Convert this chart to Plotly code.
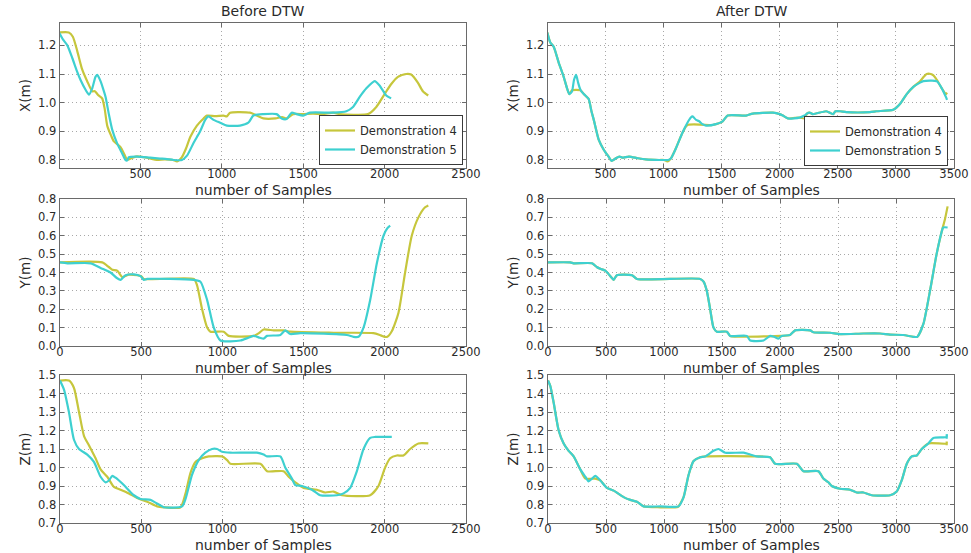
import plotly.graph_objects as go

# ---------------- data ----------------
# Before DTW, X(m)
bx4_s = [0, 60, 85, 112, 140, 173, 204, 220, 240, 265, 280, 296, 320, 337, 378, 405, 418, 440, 470, 520, 560, 600, 650, 700, 725, 755, 780, 806, 847, 888, 908, 960, 1010, 1030, 1051, 1173, 1214, 1255, 1330, 1370, 1398, 1439, 1500, 1560, 1620, 1684, 1724, 1898, 1949, 2000, 2041, 2082, 2133, 2163, 2204, 2235, 2268]
bx4_v = [1.245, 1.245, 1.23, 1.18, 1.12, 1.075, 1.04, 1.04, 1.027, 1.015, 0.98, 0.92, 0.885, 0.865, 0.845, 0.815, 0.80, 0.805, 0.812, 0.81, 0.805, 0.80, 0.802, 0.80, 0.795, 0.81, 0.84, 0.88, 0.92, 0.945, 0.955, 0.953, 0.955, 0.952, 0.965, 0.965, 0.955, 0.945, 0.945, 0.95, 0.945, 0.96, 0.96, 0.962, 0.96, 0.965, 0.96, 0.96, 0.985, 1.03, 1.065, 1.09, 1.10, 1.098, 1.07, 1.04, 1.025]
bx5_s = [0, 25, 51, 82, 110, 133, 163, 184, 204, 224, 235, 255, 270, 286, 306, 327, 357, 388, 408, 418, 429, 480, 560, 620, 663, 704, 755, 786, 827, 867, 898, 918, 949, 990, 1031, 1112, 1163, 1194, 1255, 1337, 1367, 1398, 1429, 1459, 1500, 1541, 1684, 1765, 1806, 1847, 1888, 1939, 1969, 2010, 2040]
bx5_v = [1.245, 1.22, 1.20, 1.155, 1.11, 1.078, 1.045, 1.028, 1.05, 1.09, 1.097, 1.075, 1.05, 1.02, 0.96, 0.905, 0.858, 0.823, 0.80, 0.798, 0.81, 0.812, 0.808, 0.805, 0.803, 0.80, 0.80, 0.815, 0.86, 0.90, 0.94, 0.952, 0.94, 0.93, 0.92, 0.92, 0.93, 0.955, 0.96, 0.96, 0.945, 0.943, 0.965, 0.96, 0.955, 0.965, 0.965, 0.97, 0.985, 1.02, 1.05, 1.075, 1.06, 1.025, 1.015]

# After DTW, X(m)
ax4_s = [0, 26, 55, 98, 141, 170, 190, 213, 285, 314, 340, 357, 380, 400, 443, 487, 530, 553, 587, 620, 645, 703, 780, 847, 962, 1005, 1034, 1063, 1106, 1163, 1206, 1422, 1451, 1509, 1552, 1710, 1768, 1941, 2000, 2027, 2070, 2171, 2214, 2235, 2257, 2286, 2401, 2459, 2480, 2520, 2574, 2776, 2833, 2977, 3035, 3093, 3150, 3208, 3240, 3265, 3300, 3323, 3352, 3395, 3430, 3440]
ax4_v = [1.245, 1.21, 1.195, 1.14, 1.09, 1.05, 1.03, 1.043, 1.043, 1.03, 1.02, 1.012, 0.97, 0.94, 0.87, 0.835, 0.81, 0.797, 0.805, 0.812, 0.808, 0.812, 0.806, 0.802, 0.80, 0.80, 0.795, 0.805, 0.84, 0.895, 0.922, 0.922, 0.925, 0.935, 0.955, 0.955, 0.962, 0.965, 0.96, 0.955, 0.945, 0.948, 0.945, 0.962, 0.965, 0.96, 0.97, 0.96, 0.97, 0.97, 0.967, 0.967, 0.97, 0.975, 0.995, 1.03, 1.055, 1.075, 1.09, 1.10, 1.10, 1.095, 1.08, 1.05, 1.03, 1.035]
ax5_s = [0, 26, 55, 98, 141, 170, 190, 213, 230, 248, 265, 285, 314, 340, 357, 380, 400, 443, 487, 530, 553, 587, 620, 645, 703, 780, 847, 962, 1005, 1040, 1063, 1106, 1163, 1206, 1235, 1250, 1280, 1307, 1335, 1365, 1451, 1509, 1552, 1710, 1768, 1941, 2000, 2027, 2070, 2171, 2214, 2235, 2257, 2286, 2401, 2459, 2480, 2520, 2574, 2776, 2833, 2977, 3035, 3093, 3150, 3208, 3236, 3352, 3395, 3430, 3440]
ax5_v = [1.245, 1.21, 1.195, 1.14, 1.09, 1.05, 1.03, 1.04, 1.08, 1.097, 1.07, 1.045, 1.03, 1.02, 1.012, 0.97, 0.94, 0.87, 0.835, 0.81, 0.797, 0.805, 0.812, 0.808, 0.812, 0.806, 0.802, 0.80, 0.80, 0.80, 0.805, 0.84, 0.895, 0.93, 0.948, 0.952, 0.94, 0.935, 0.925, 0.92, 0.925, 0.935, 0.955, 0.955, 0.962, 0.965, 0.96, 0.955, 0.945, 0.948, 0.955, 0.962, 0.965, 0.96, 0.97, 0.96, 0.97, 0.97, 0.967, 0.967, 0.97, 0.975, 0.995, 1.03, 1.055, 1.07, 1.075, 1.075, 1.05, 1.02, 1.01]

# Before DTW, Y(m)
by4_s = [0, 260, 300, 322, 352, 383, 400, 424, 475, 500, 516, 824, 844, 875, 906, 926, 1008, 1039, 1193, 1225, 1254, 1316, 1377, 1418, 1684, 1930, 1975, 2000, 2015, 2043, 2084, 2125, 2166, 2207, 2248, 2268]
by4_v = [0.455, 0.455, 0.43, 0.415, 0.41, 0.375, 0.38, 0.388, 0.385, 0.38, 0.365, 0.365, 0.33, 0.20, 0.10, 0.078, 0.078, 0.055, 0.055, 0.07, 0.09, 0.085, 0.085, 0.078, 0.072, 0.07, 0.058, 0.05, 0.05, 0.08, 0.18, 0.40, 0.60, 0.70, 0.755, 0.765]
by5_s = [0, 45, 189, 250, 311, 350, 373, 404, 455, 496, 516, 537, 824, 865, 906, 947, 988, 1111, 1160, 1193, 1230, 1254, 1275, 1357, 1387, 1418, 1480, 1766, 1807, 1838, 1869, 1910, 1951, 1992, 2015, 2033]
by5_v = [0.455, 0.45, 0.45, 0.425, 0.40, 0.37, 0.36, 0.385, 0.39, 0.38, 0.36, 0.365, 0.36, 0.35, 0.25, 0.10, 0.03, 0.03, 0.045, 0.055, 0.045, 0.04, 0.055, 0.06, 0.085, 0.065, 0.07, 0.06, 0.05, 0.05, 0.10, 0.25, 0.45, 0.60, 0.64, 0.655]

# After DTW, Y(m)
ay4_s = [0, 192, 221, 379, 420, 451, 494, 551, 566, 594, 724, 767, 1312, 1341, 1369, 1398, 1427, 1456, 1542, 1570, 2001, 2015, 2087, 2130, 2260, 2288, 2432, 2518, 2719, 2862, 2948, 3063, 3149, 3184, 3236, 3293, 3350, 3393, 3422, 3445]
ay4_v = [0.455, 0.455, 0.45, 0.45, 0.43, 0.42, 0.41, 0.37, 0.36, 0.385, 0.385, 0.365, 0.365, 0.35, 0.30, 0.20, 0.10, 0.078, 0.078, 0.055, 0.055, 0.055, 0.06, 0.085, 0.085, 0.075, 0.072, 0.065, 0.068, 0.068, 0.062, 0.06, 0.05, 0.05, 0.12, 0.30, 0.50, 0.62, 0.69, 0.76]
ay5_s = [0, 192, 221, 379, 420, 451, 494, 551, 566, 594, 724, 767, 1312, 1341, 1369, 1398, 1427, 1456, 1542, 1570, 1714, 1743, 1858, 1915, 1950, 1987, 2015, 2087, 2130, 2260, 2288, 2432, 2518, 2719, 2862, 2948, 3063, 3149, 3184, 3236, 3293, 3350, 3393, 3407, 3445]
ay5_v = [0.455, 0.455, 0.45, 0.45, 0.43, 0.42, 0.41, 0.37, 0.36, 0.385, 0.385, 0.365, 0.365, 0.35, 0.30, 0.20, 0.10, 0.078, 0.078, 0.055, 0.055, 0.03, 0.03, 0.055, 0.05, 0.04, 0.055, 0.06, 0.085, 0.085, 0.075, 0.072, 0.065, 0.068, 0.068, 0.062, 0.06, 0.05, 0.05, 0.12, 0.30, 0.50, 0.62, 0.645, 0.645]

# Before DTW, Z(m)
bz4_s = [0, 55, 86, 117, 148, 178, 219, 250, 291, 332, 373, 424, 475, 537, 598, 639, 742, 773, 803, 834, 875, 916, 998, 1029, 1049, 1234, 1275, 1377, 1408, 1449, 1500, 1582, 1633, 1684, 1736, 1910, 1961, 2002, 2033, 2074, 2115, 2156, 2207, 2268]
bz4_v = [1.47, 1.47, 1.43, 1.30, 1.17, 1.12, 1.05, 0.99, 0.95, 0.895, 0.88, 0.86, 0.835, 0.815, 0.79, 0.785, 0.785, 0.86, 0.97, 1.03, 1.05, 1.06, 1.06, 1.04, 1.02, 1.02, 0.98, 0.98, 0.95, 0.92, 0.89, 0.88, 0.865, 0.87, 0.85, 0.85, 0.90, 1.00, 1.05, 1.065, 1.065, 1.10, 1.13, 1.13]
bz5_s = [0, 25, 55, 86, 117, 168, 209, 250, 281, 301, 322, 342, 393, 455, 496, 557, 588, 619, 639, 752, 773, 813, 854, 895, 936, 967, 998, 1049, 1213, 1254, 1275, 1357, 1387, 1428, 1449, 1490, 1551, 1602, 1705, 1746, 1787, 1828, 1869, 1910, 1941, 2043]
bz5_v = [1.47, 1.42, 1.30, 1.15, 1.10, 1.07, 1.03, 0.95, 0.92, 0.93, 0.955, 0.945, 0.905, 0.85, 0.83, 0.825, 0.81, 0.795, 0.785, 0.79, 0.83, 0.96, 1.04, 1.08, 1.10, 1.10, 1.085, 1.08, 1.08, 1.07, 1.06, 1.06, 1.00, 0.94, 0.905, 0.90, 0.88, 0.85, 0.85, 0.86, 0.89, 0.98, 1.10, 1.16, 1.165, 1.165]

# After DTW, Z(m)
az4_s = [0, 20, 49, 92, 135, 178, 221, 278, 322, 408, 451, 508, 566, 652, 709, 767, 824, 968, 1111, 1125, 1169, 1212, 1255, 1312, 1355, 1800, 1915, 1958, 2145, 2202, 2331, 2374, 2417, 2446, 2518, 2604, 2661, 2719, 2791, 2949, 3006, 3049, 3093, 3136, 3179, 3222, 3279, 3437, 3437, 3437]
az4_v = [1.47, 1.44, 1.35, 1.20, 1.13, 1.09, 1.06, 0.99, 0.94, 0.94, 0.93, 0.89, 0.875, 0.84, 0.825, 0.815, 0.79, 0.785, 0.785, 0.79, 0.84, 0.96, 1.035, 1.055, 1.06, 1.06, 1.055, 1.02, 1.02, 0.98, 0.98, 0.94, 0.92, 0.90, 0.885, 0.88, 0.865, 0.865, 0.85, 0.85, 0.87, 0.93, 1.02, 1.06, 1.065, 1.10, 1.13, 1.13, 1.14, 1.12]
az5_s = [0, 20, 49, 92, 135, 178, 221, 278, 322, 350, 380, 408, 451, 508, 566, 652, 709, 767, 824, 968, 1125, 1169, 1212, 1255, 1312, 1355, 1427, 1470, 1528, 1686, 1743, 1800, 1915, 1958, 2145, 2202, 2331, 2374, 2417, 2446, 2518, 2604, 2661, 2719, 2791, 2949, 3006, 3049, 3093, 3136, 3179, 3222, 3279, 3322, 3437, 3437, 3437]
az5_v = [1.47, 1.44, 1.35, 1.20, 1.13, 1.09, 1.06, 0.99, 0.95, 0.925, 0.94, 0.955, 0.93, 0.89, 0.875, 0.84, 0.825, 0.815, 0.79, 0.79, 0.79, 0.84, 0.96, 1.035, 1.055, 1.06, 1.09, 1.10, 1.08, 1.08, 1.07, 1.06, 1.055, 1.02, 1.02, 0.98, 0.98, 0.94, 0.92, 0.90, 0.885, 0.88, 0.865, 0.865, 0.85, 0.85, 0.87, 0.93, 1.02, 1.06, 1.065, 1.10, 1.13, 1.16, 1.165, 1.18, 1.155]

series_names = ["Demonstration 4", "Demonstration 5"]
panel_titles = ["Before DTW", "After DTW"]
y_titles = ["X(m)", "Y(m)", "Z(m)"]
x_title = "number of Samples"

# ---------------- styling ----------------
W, H = 971, 553
C4 = "#c6c63c"
C5 = "#3ed0d0"
FONT = "DejaVu Sans"
TXT = "#2a2a2a"

# pixel positions in the window
col_px = [(60, 466), (548, 954)]
row_px = [(23, 168), (199, 346), (375, 523)]
xlabel_y = [190, 368, 545]
title_y = 11


def px_x(p):
    return p / W


def px_y(p):
    return 1 - p / H


y_ranges = [[0.772, 1.278], [0.0, 0.8], [0.7, 1.5]]
y_ticks = [[0.8, 0.9, 1.0, 1.1, 1.2],
           [0.0, 0.1, 0.2, 0.3, 0.4, 0.5, 0.6, 0.7, 0.8],
           [0.7, 0.8, 0.9, 1.0, 1.1, 1.2, 1.3, 1.4, 1.5]]
x_ranges = [[6, 2500], [6, 3500]]

panels = [
    (0, 0, bx4_s, bx4_v, bx5_s, bx5_v),
    (0, 1, ax4_s, ax4_v, ax5_s, ax5_v),
    (1, 0, by4_s, by4_v, by5_s, by5_v),
    (1, 1, ay4_s, ay4_v, ay5_s, ay5_v),
    (2, 0, bz4_s, bz4_v, bz5_s, bz5_v),
    (2, 1, az4_s, az4_v, az5_s, az5_v),
]

fig = go.Figure()
layout = {}
annotations = []
for i, (r, c, s4, v4, s5, v5) in enumerate(panels):
    k = i + 1
    xa = "x" if k == 1 else f"x{k}"
    ya = "y" if k == 1 else f"y{k}"
    legend_ref = "legend" if c == 0 else "legend2"
    for s, v, nm, col in [(s4, v4, series_names[0], C4), (s5, v5, series_names[1], C5)]:
        fig.add_trace(go.Scatter(
            x=s, y=v, mode="lines", name=nm, xaxis=xa, yaxis=ya,
            line=dict(color=col, width=2.2, shape="spline", smoothing=0.6),
            showlegend=(r == 0), legend=legend_ref,
            hoverinfo="skip"))
    x0, x1 = col_px[c]
    y0, y1 = row_px[r]
    if r == 0:
        xt = [500, 1000, 1500, 2000, 2500] if c == 0 else [500, 1000, 1500, 2000, 2500, 3000, 3500]
        xr = x_ranges[c]
    else:
        xt = [0, 500, 1000, 1500, 2000, 2500] if c == 0 else [0, 500, 1000, 1500, 2000, 2500, 3000, 3500]
        xr = [0, x_ranges[c][1]]
    common = dict(showline=True, linecolor="#6a6a6a", linewidth=1.4, mirror="allticks",
                  ticks="inside", ticklen=4, tickcolor="#6a6a6a", tickwidth=1,
                  showgrid=True, gridcolor="#a8a8a8", griddash="1px,3px", gridwidth=1,
                  zeroline=False, automargin=False,
                  tickfont=dict(family=FONT, size=11.5, color=TXT))
    layout["xaxis" if k == 1 else f"xaxis{k}"] = dict(
        common, domain=[px_x(x0), px_x(x1)], anchor=ya, range=xr, tickvals=xt,
        ticklabelstandoff=-5)
    layout["yaxis" if k == 1 else f"yaxis{k}"] = dict(
        common, domain=[px_y(y1), px_y(y0)], anchor=xa, range=y_ranges[r],
        tickvals=y_ticks[r], tickformat=".1f",
        title=dict(text=y_titles[r], font=dict(family=FONT, size=13.5, color=TXT), standoff=4))
    annotations.append(dict(text=x_title, x=px_x((x0 + x1) / 2), y=px_y(xlabel_y[r]),
                            xref="paper", yref="paper", showarrow=False,
                            xanchor="center", yanchor="middle",
                            font=dict(family=FONT, size=14, color=TXT)))

legend_common = dict(bgcolor="white", bordercolor="#3a3a3a", borderwidth=1,
                     font=dict(family=FONT, size=11.5, color=TXT),
                     xanchor="right", yanchor="bottom", itemwidth=30, tracegroupgap=0)
layout["legend"] = dict(legend_common, x=px_x(463), y=px_y(165))
layout["legend2"] = dict(legend_common, x=px_x(948), y=px_y(166))

for c, t in enumerate(panel_titles):
    x0, x1 = col_px[c]
    annotations.append(dict(text=t, x=px_x((x0 + x1) / 2), y=px_y(title_y), xref="paper", yref="paper",
                            showarrow=False, xanchor="center", yanchor="middle",
                            font=dict(family=FONT, size=14, color=TXT)))

fig.update_layout(**layout)
fig.update_layout(width=W, height=H, margin=dict(l=0, r=0, t=0, b=0, autoexpand=False),
                  paper_bgcolor="white", plot_bgcolor="white",
                  annotations=annotations, showlegend=True)

# remove the default 8px page margin so the figure fills the window exactly
fig.write_html("out.html", config={"displayModeBar": False, "staticPlot": True},
               post_script="document.body.style.margin='0';")
